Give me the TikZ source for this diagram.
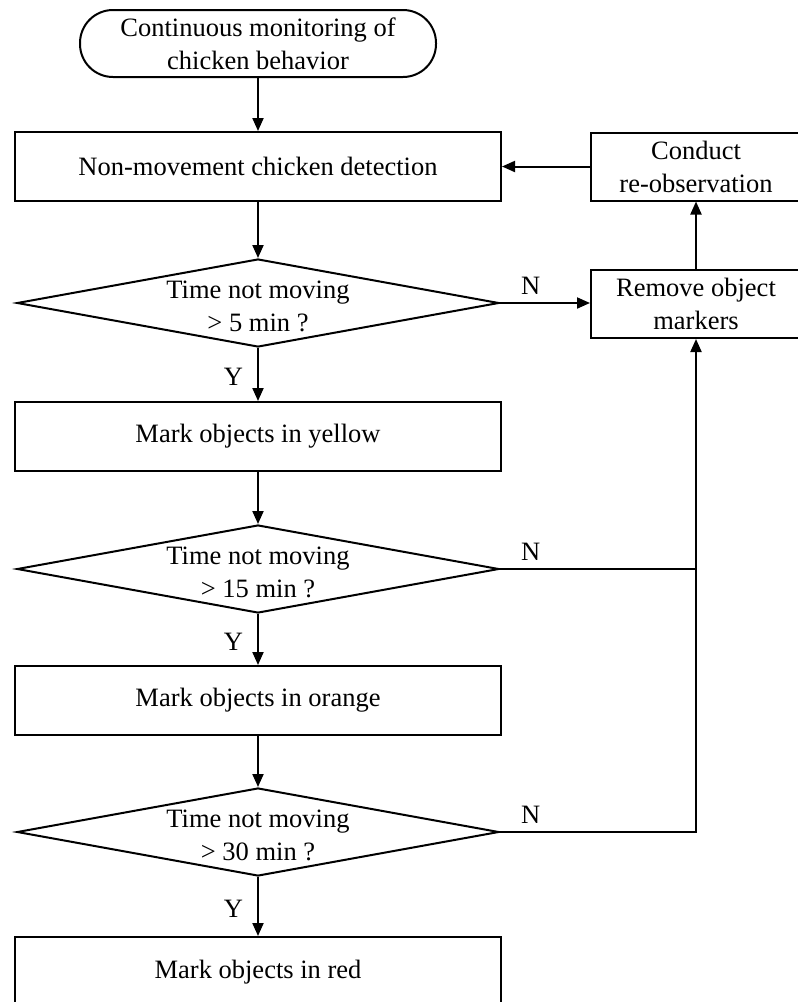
\documentclass[tikz,border=0pt]{standalone}
\usepackage{fontspec}
\setmainfont{Liberation Serif}
\usetikzlibrary{
	arrows.meta,
	shapes.geometric
}

\tikzset{
    flowbox/.style={draw, line width=2pt, minimum width=486pt, minimum height=69pt, inner sep=0pt, align=center},
    sidebox/.style={draw, line width=2pt, minimum width=210pt, minimum height=68pt, inner sep=0pt, align=center},
    terminal/.style={draw, line width=2pt, rounded corners=33pt, minimum width=356pt, minimum height=67pt, inner sep=0pt, align=center},
    decision/.style={draw, diamond, aspect=5.5, line width=2pt, minimum width=482pt, minimum height=88pt, inner sep=0pt},
    question/.style={align=center, inner sep=0pt, yshift=-3pt},
    flow/.style={line width=2pt, -{Triangle[length=13pt, width=11pt]}},
    branch/.style={line width=2pt},
    yeslabel/.style={anchor=east, inner sep=0pt, xshift=-14pt, yshift=-2pt},
    nolabel/.style={anchor=base west, inner sep=0pt, xshift=20pt, yshift=9pt}
}

\begin{document}
\begin{tikzpicture}[x=1pt, y=-1pt, font=\fontsize{26.5}{33}\selectfont]
    % Page
    \useasboundingbox (0,0) rectangle (798,1002);
    \clip (0,0) rectangle (798,1002);
    % Definitions
    \def \midx{258}
    \def \sidex{696}
    %%%
    %%% Main column
    %%%
    \node[terminal] (start) at (\midx,43.5) {Continuous monitoring of\\chicken behavior};
    \node[flowbox] (detect) at (\midx,166.5) {Non-movement chicken detection};
    \node[decision] (check5) at (\midx,303) {};
    \node[question] (check5text) at (check5.center) {Time not moving\\> 5 min ?};
    \node[flowbox] (yellow) at (\midx,436.5) {Mark objects in yellow};
    \node[decision] (check15) at (\midx,569) {};
    \node[question] (check15text) at (check15.center) {Time not moving\\> 15 min ?};
    \node[flowbox] (orange) at (\midx,700.5) {Mark objects in orange};
    \node[decision] (check30) at (\midx,832) {};
    \node[question] (check30text) at (check30.center) {Time not moving\\> 30 min ?};
    \node[flowbox, minimum height=70pt] (red) at (\midx,972) {Mark objects in red};
    %%%
    %%% Side column
    %%%
    \node[sidebox] (observe) at (\sidex,166.5) {Conduct\\re-observation};
    \node[sidebox] (remove) at (\sidex,304) {Remove object\\markers};
    \coordinate (join15) at (check15.east -| remove.south);
    \coordinate (join30) at (check30.east -| remove.south);
    % Yes branches
    \draw[flow] (start) -- (detect);
    \draw[flow] (detect) -- (check5);
    \draw[flow] (check5) -- node[yeslabel] {Y} (yellow);
    \draw[flow] (yellow) -- (check15);
    \draw[flow] (check15) -- node[yeslabel] {Y} (orange);
    \draw[flow] (orange) -- (check30);
    \draw[flow] (check30) -- node[yeslabel] {Y} (red);
    % No branches
    \draw[flow] (check5.east) -- node[nolabel, pos=0] {N} (remove.west |- check5.east);
    \draw[branch] (check15.east) -- node[nolabel, pos=0] {N} (join15);
    \draw[flow] (check30.east) -- node[nolabel, pos=0] {N} (join30) -- (remove.south);
    % Back to detection
    \draw[flow] (remove) -- (observe);
    \draw[flow] (observe.west) -- (detect.east |- observe.west);
\end{tikzpicture}
\end{document}
